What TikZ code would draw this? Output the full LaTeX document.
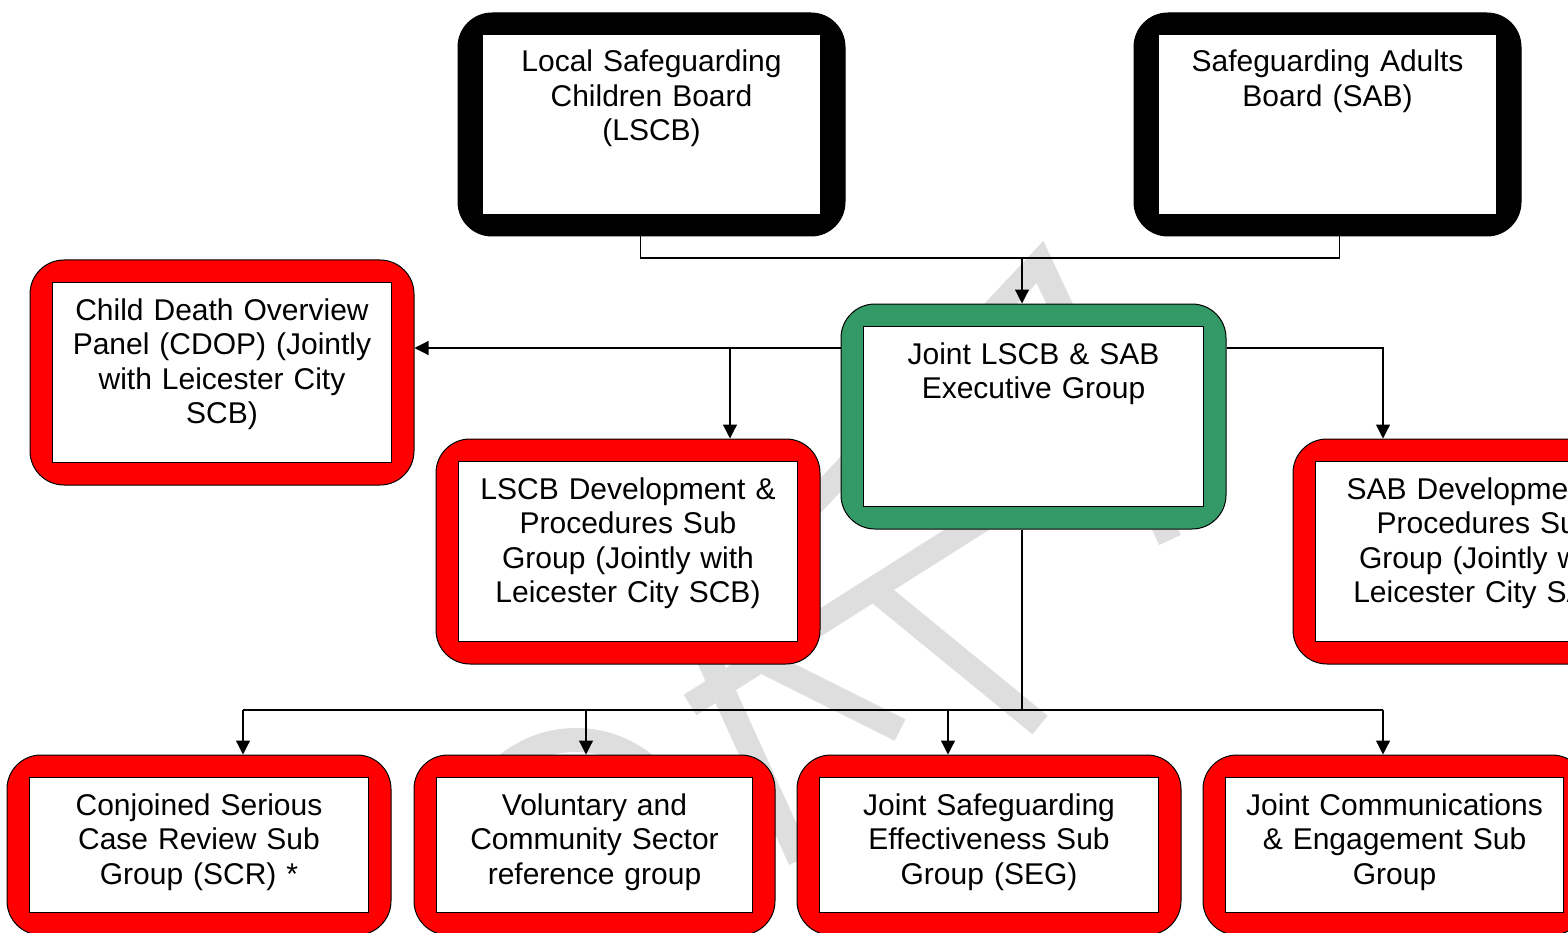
\documentclass[tikz,border=0pt]{standalone}
\usepackage{fontspec}
\setmainfont{Liberation Sans}
\usetikzlibrary{positioning,arrows.meta,fit,backgrounds,calc}

\definecolor{boardRed}{HTML}{FF0000}
\definecolor{execGreen}{HTML}{339966}
\definecolor{markGray}{HTML}{DEDEDE}

\begin{document}
\begin{tikzpicture}[
    x=1pt, y=-1pt,
    font=\fontsize{30}{34.5}\selectfont,
    topin/.style  ={draw=black, line width=1pt, fill=white, inner sep=0pt, anchor=north west, align=center, text width=#1, text height=37.5pt, text depth=142.5pt},
    subin/.style  ={draw=black, line width=1pt, fill=white, inner sep=0pt, anchor=north west, align=center, text width=#1, text height=37.5pt, text depth=97.5pt},
    frame/.style  ={draw=black, line width=1pt, rounded corners=34pt, inner sep=22pt, fill=#1},
    bframe/.style ={draw=black, line width=1pt, rounded corners=34pt, inner xsep=24pt, inner ysep=21pt, fill=black},
    wmark/.style  ={draw=markGray, line width=24pt, line join=miter},
    link/.style   ={line width=1.2pt, black},
    arr/.style    ={-{Triangle[length=14pt,width=14pt]}, line width=1.2pt, black},
  ]
  \useasboundingbox (0,0) rectangle (1568,933);
  % boards
  \node[topin=338pt] (lscb-in) at (482,34)  {Local Safeguarding\\Children Board\\(LSCB)};
  \node[topin=338pt] (sab-in)  at (1158,34) {Safeguarding Adults\\Board (SAB)};
  % executive row
  \node[topin=339pt] (cdop-in) at (52,282)  {Child Death Overview\\Panel (CDOP) (Jointly\\with Leicester City\\SCB)};
  \node[topin=340pt] (exec-in) at (863,326) {Joint LSCB \& SAB\\Executive Group};
  \node[topin=339pt] (lscbdev-in) at (458,461)  {LSCB Development \&\\Procedures Sub\\Group (Jointly with\\Leicester City SCB)};
  \node[topin=339pt] (sabdev-in)  at (1315,461) {SAB Development \&\\Procedures Sub\\Group (Jointly with\\Leicester City SAB)};
  % sub groups
  \node[subin=339pt] (scr-in) at (29,777)   {Conjoined Serious\\Case Review Sub\\Group (SCR) *};
  \node[subin=316pt] (vcs-in) at (436,777)  {Voluntary and\\Community Sector\\reference group};
  \node[subin=339pt] (jse-in) at (819,777)  {Joint Safeguarding\\Effectiveness Sub\\Group (SEG)};
  \node[subin=338pt] (jce-in) at (1225,777) {Joint Communications\\\& Engagement Sub\\Group};
  \begin{scope}[on background layer]
    % draft watermark, what shows between the boxes
    \draw[wmark] (760,560) -- (1040,262) -- (1170,540);
    \draw[wmark] (990,515) -- (690,705);
    \draw[wmark] (875,590) -- (1040,725);
    \draw[wmark] (700,640) -- (800,860);
    \draw[wmark] (740,650) -- (900,730);
    \draw[wmark] (576,850) circle[radius=110];
    % coloured borders
    \node[bframe, fit=(lscb-in)] (lscb) {};
    \node[bframe, fit=(sab-in)]  (sab)  {};
    \node[frame=boardRed,  fit=(cdop-in)]    (cdop)    {};
    \node[frame=execGreen, fit=(exec-in)]    (exec)    {};
    \node[frame=boardRed,  fit=(lscbdev-in)] (lscbdev) {};
    \node[frame=boardRed,  fit=(sabdev-in)]  (sabdev)  {};
    \node[frame=boardRed,  fit=(scr-in)] (scr) {};
    \node[frame=boardRed,  fit=(vcs-in)] (vcs) {};
    \node[frame=boardRed,  fit=(jse-in)] (jse) {};
    \node[frame=boardRed,  fit=(jce-in)] (jce) {};
  \end{scope}
  % boards join, then down to the executive
  \coordinate (boards) at (1022,258);
  \draw[link] ([xshift=-11pt]lscb.south) |- (boards) -| ([xshift=12pt]sab.south);
  \draw[arr] (boards) -- (boards |- exec.north);
  % executive out to the side groups
  \coordinate (split-l) at (730,348);
  \coordinate (split-r) at (1383,348);
  \draw[arr] (exec.west |- split-l) -- (cdop.east |- split-l);
  \draw[arr] (split-l) -- (split-l |- lscbdev.north);
  \draw[arr] (exec.east |- split-r) -- (split-r) -- (split-r |- sabdev.north);
  % executive down to the sub groups
  \coordinate (bus) at (1022,710);
  \coordinate (tap-scr) at (243,710);
  \coordinate (tap-vcs) at (586,710);
  \coordinate (tap-jse) at (948,710);
  \coordinate (tap-jce) at (1383,710);
  \draw[link] (exec.south -| bus) -- (bus);
  \draw[link] (tap-scr) -- (tap-jce);
  \foreach \g in {scr,vcs,jse,jce}
    \draw[arr] (tap-\g) -- (tap-\g |- \g.north);
\end{tikzpicture}
\end{document}
